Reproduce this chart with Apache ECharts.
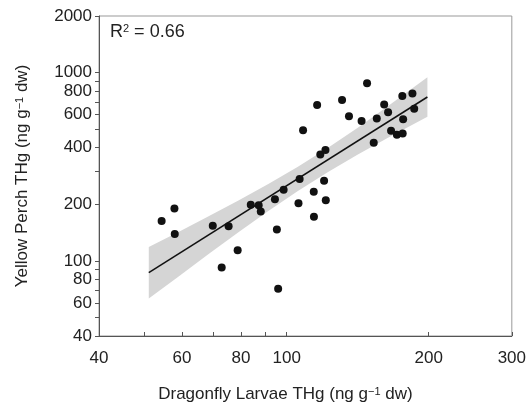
<!DOCTYPE html>
<html><head><meta charset="utf-8">
<script src="https://cdn.jsdelivr.net/npm/echarts@6/dist/echarts.min.js"></script>
<style>html,body{margin:0;padding:0;background:#fff}#c{width:529px;height:408px}</style>
</head><body><div id="c"></div>
<script>
// Dragonfly larvae THg (x) vs yellow perch THg (y), ng g-1 dw
const dragonfly = [54.3, 57.8, 57.9, 69.7, 75.3, 78.7, 72.8, 83.9, 87.2, 88.1, 94.4, 95.3, 95.9, 98.5, 105.9, 106.5, 114.2, 114.1, 120.0, 121.0, 117.8, 120.8, 108.3, 116.0, 131.0, 148.0, 135.5, 144.1, 155.2, 152.9, 160.9, 164.0, 175.8, 184.7, 186.3, 176.5, 166.4, 171.2, 176.1];
const perch     = [163, 190, 139, 154, 153, 114, 92.4, 199, 198, 183, 213, 147, 71.2, 239, 203, 273, 172, 233, 267, 210, 368, 389, 495, 674, 717, 880, 587, 554, 572, 425, 678, 616, 752, 776, 644, 566, 492, 468, 475];
// regression line end points
const fitX = [51.0, 198.7];
const fitY = [86.7, 743];
// confidence band
const bandX     = [51.0, 59.1, 68.3, 79.0, 91.4, 105.6, 122.1, 141.2, 163.2, 198.7];
const bandUpper = [118.8, 143.1, 172.7, 209.4, 256.2, 316.9, 398.6, 509.3, 658.8, 946.8];
const bandLower = [63.2, 83.1, 109.0, 142.2, 184.2, 235.6, 296.4, 367.0, 448.8, 582.8];
// axes
const xTicks = [40, 50, 60, 70, 80, 90, 100, 200, 300];
const xLabels = [40, 60, 80, 100, 200, 300];
const yTicks = [40, 50, 60, 70, 80, 90, 100, 200, 300, 400, 500, 600, 700, 800, 900, 1000, 2000];
const yLabels = [40, 60, 80, 100, 200, 400, 600, 800, 1000, 2000];
const xRange = [40, 300];
const yRange = [40, 2000];
const r2 = '0.66';

const L = Math.log10;
const FONT = '"Liberation Sans", Arial, sans-serif';
const TXT = '#222';
const fmt = v => String(Math.round(Math.pow(10, v)));

const chart = echarts.init(document.getElementById('c'), null, {renderer: 'canvas'});
chart.setOption({
  animation: false,
  backgroundColor: '#fff',
  grid: {left: 99, right: 13, top: 16, bottom: 70, show: true, borderColor: '#999', borderWidth: 1, containLabel: false},
  xAxis: {
    type: 'value', min: L(xRange[0]), max: L(xRange[1]),
    axisLine: {show: true, onZero: false, lineStyle: {color: '#555', width: 1}},
    axisTick: {show: true, inside: true, length: 4, customValues: xTicks.map(L), lineStyle: {color: '#555'}},
    axisLabel: {customValues: xLabels.map(L), formatter: fmt, fontSize: 17, color: TXT, fontFamily: FONT, margin: 14},
    splitLine: {show: false},
    name: '{a|Dragonfly Larvae THg (ng g}{s|−1}{a| dw)}',
    nameLocation: 'middle', nameGap: 50,
    nameTextStyle: {padding: [0, 40, 0, 0], rich: {
      a: {fontSize: 17, color: TXT, fontFamily: FONT},
      s: {fontSize: 11, color: TXT, fontFamily: FONT, verticalAlign: 'top'}
    }}
  },
  yAxis: {
    type: 'value', min: L(yRange[0]), max: L(yRange[1]),
    axisLine: {show: true, onZero: false, lineStyle: {color: '#555', width: 1}},
    axisTick: {show: true, inside: false, length: 4, customValues: yTicks.map(L), lineStyle: {color: '#555'}},
    axisLabel: {customValues: yLabels.map(L), formatter: fmt, fontSize: 17, color: TXT, fontFamily: FONT, margin: 7},
    splitLine: {show: false},
    name: '{a|Yellow Perch THg (ng g}{s|−1}{a| dw)}',
    nameLocation: 'middle', nameGap: 68,
    nameTextStyle: {rich: {
      a: {fontSize: 17, color: TXT, fontFamily: FONT},
      s: {fontSize: 11, color: TXT, fontFamily: FONT, verticalAlign: 'top'}
    }}
  },
  graphic: [{
    type: 'text', left: 110, top: 23,
    style: {
      text: '{a|R}{s|2}{a| = ' + r2 + '}',
      rich: {
        a: {fontSize: 18, fill: TXT, fontFamily: FONT},
        s: {fontSize: 11, fill: TXT, fontFamily: FONT, verticalAlign: 'top'}
      }
    }
  }],
  series: [
    {
      type: 'custom', silent: true, clip: false, z: 1,
      data: [[L(bandX[0]), L(bandLower[0])]],
      renderItem: function (params, api) {
        const pts = [];
        for (let i = 0; i < bandX.length; i++) pts.push(api.coord([L(bandX[i]), L(bandUpper[i])]));
        for (let i = bandX.length - 1; i >= 0; i--) pts.push(api.coord([L(bandX[i]), L(bandLower[i])]));
        return {type: 'polygon', shape: {points: pts}, style: {fill: '#d5d5d5'}};
      }
    },
    {
      type: 'line', z: 2, silent: true, symbol: 'none',
      data: fitX.map((x, i) => [L(x), L(fitY[i])]),
      lineStyle: {color: '#111', width: 1.5}
    },
    {
      type: 'scatter', z: 3, symbolSize: 8,
      data: dragonfly.map((x, i) => [L(x), L(perch[i])]),
      itemStyle: {color: '#111', opacity: 1}
    }
  ]
});
</script>
</body></html>
